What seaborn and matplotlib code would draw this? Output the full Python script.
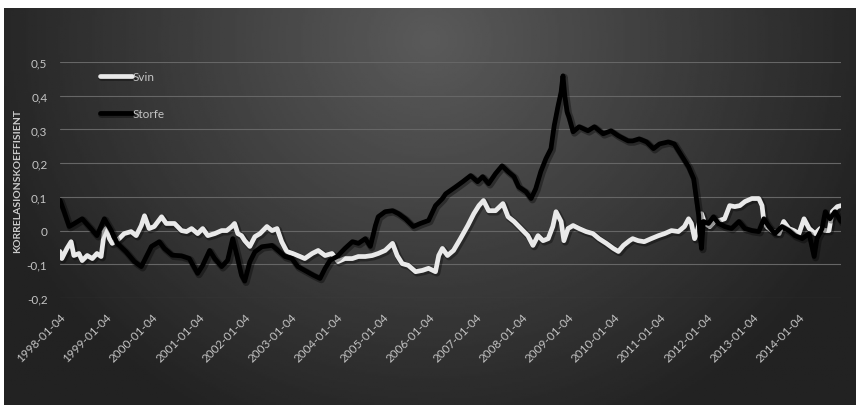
import numpy as np
import pandas as pd
import matplotlib
matplotlib.use("Agg")
import matplotlib.pyplot as plt
import matplotlib.dates as mdates
import matplotlib.ticker as mticker
import matplotlib.patheffects as pe
import seaborn as sns

# Svin: (fractional year, correlation)
svin_year = [
    1998.00, 1998.04, 1998.15, 1998.24, 1998.30, 1998.41, 1998.48, 1998.59, 1998.70, 1998.80,
    1998.89, 1998.96, 1999.00, 1999.07, 1999.13, 1999.28, 1999.39, 1999.54, 1999.65, 1999.76,
    1999.83, 1999.93, 2000.04, 2000.20, 2000.30, 2000.48, 2000.63, 2000.74, 2000.85, 2000.98,
    2001.09, 2001.20, 2001.35, 2001.50, 2001.61, 2001.72, 2001.78, 2001.85, 2001.93, 2002.00,
    2002.11, 2002.22, 2002.33, 2002.48, 2002.59, 2002.70, 2002.80, 2002.91, 2003.04, 2003.20,
    2003.30, 2003.46, 2003.59, 2003.74, 2003.89, 2004.02, 2004.17, 2004.33, 2004.46, 2004.61,
    2004.76, 2004.89, 2005.04, 2005.20, 2005.30, 2005.41, 2005.54, 2005.70, 2005.85, 2005.98,
    2006.13, 2006.20, 2006.28, 2006.39, 2006.52, 2006.67, 2006.83, 2006.96, 2007.07, 2007.17,
    2007.28, 2007.43, 2007.59, 2007.70, 2007.83, 2007.98, 2008.13, 2008.24, 2008.35, 2008.46,
    2008.57, 2008.67, 2008.74, 2008.85, 2008.91, 2009.00, 2009.11, 2009.24, 2009.39, 2009.54,
    2009.67, 2009.83, 2009.98, 2010.09, 2010.20, 2010.33, 2010.40, 2010.52, 2010.65, 2010.80,
    2010.96, 2011.09, 2011.24, 2011.39, 2011.52, 2011.61, 2011.67, 2011.74, 2011.80, 2011.89,
    2011.96, 2012.07, 2012.17, 2012.28, 2012.39, 2012.50, 2012.61, 2012.72, 2012.83, 2012.98,
    2013.13, 2013.20, 2013.24, 2013.30, 2013.41, 2013.57, 2013.67, 2013.78, 2013.89, 2014.00,
    2014.11, 2014.22, 2014.35, 2014.46, 2014.57, 2014.65, 2014.72, 2014.83, 2014.91,
]
svin_val = [
    -0.062, -0.083, -0.053, -0.033, -0.074, -0.068, -0.089, -0.074, -0.083, -0.068,
    -0.077, -0.003, 0.006, -0.024, -0.038, -0.024, -0.009, -0.003, -0.015, 0.015,
    0.044, 0.006, 0.012, 0.041, 0.021, 0.021, 0.000, -0.003, 0.006, -0.009,
    0.006, -0.015, -0.009, 0.000, 0.000, 0.012, 0.021, -0.009, -0.015, -0.030,
    -0.047, -0.018, -0.009, 0.012, 0.000, 0.006, -0.033, -0.062, -0.068, -0.077,
    -0.083, -0.068, -0.059, -0.074, -0.068, -0.092, -0.083, -0.083, -0.077, -0.077,
    -0.074, -0.068, -0.059, -0.038, -0.074, -0.098, -0.103, -0.122, -0.118, -0.112,
    -0.122, -0.074, -0.053, -0.074, -0.059, -0.024, 0.015, 0.050, 0.074, 0.089,
    0.059, 0.059, 0.080, 0.041, 0.027, 0.006, -0.015, -0.044, -0.015, -0.030,
    -0.024, 0.012, 0.056, 0.027, -0.030, 0.006, 0.015, 0.006, -0.003, -0.009,
    -0.024, -0.038, -0.053, -0.062, -0.044, -0.030, -0.024, -0.030, -0.033, -0.024,
    -0.015, -0.009, 0.000, -0.003, 0.012, 0.035, 0.021, -0.024, 0.000, 0.050,
    0.021, 0.012, 0.027, 0.030, 0.035, 0.074, 0.071, 0.074, 0.086, 0.095,
    0.095, 0.074, 0.027, 0.012, 0.000, -0.009, 0.027, 0.006, 0.000, -0.009,
    0.035, 0.006, -0.009, 0.006, 0.000, 0.000, 0.056, 0.071, 0.074,
]

# Storfe
storfe_year = [
    1998.00, 1998.09, 1998.20, 1998.30, 1998.48, 1998.67, 1998.80, 1998.96, 1999.11, 1999.24,
    1999.43, 1999.61, 1999.76, 1999.87, 1999.98, 2000.15, 2000.26, 2000.43, 2000.63, 2000.80,
    2000.98, 2001.09, 2001.24, 2001.35, 2001.50, 2001.63, 2001.74, 2001.83, 2001.93, 2002.00,
    2002.11, 2002.22, 2002.37, 2002.59, 2002.72, 2002.87, 2003.02, 2003.15, 2003.35, 2003.48,
    2003.63, 2003.74, 2003.85, 2004.00, 2004.17, 2004.33, 2004.46, 2004.61, 2004.72, 2004.83,
    2004.89, 2005.04, 2005.20, 2005.33, 2005.48, 2005.65, 2005.80, 2005.98, 2006.13, 2006.28,
    2006.35, 2006.57, 2006.72, 2006.89, 2007.04, 2007.15, 2007.28, 2007.43, 2007.57, 2007.70,
    2007.83, 2007.93, 2008.09, 2008.20, 2008.30, 2008.41, 2008.52, 2008.63, 2008.70, 2008.78,
    2008.85, 2008.89, 2008.93, 2008.98, 2009.02, 2009.11, 2009.24, 2009.43, 2009.57, 2009.76,
    2009.93, 2010.09, 2010.30, 2010.40, 2010.54, 2010.70, 2010.85, 2010.98, 2011.17, 2011.30,
    2011.46, 2011.61, 2011.72, 2011.78, 2011.83, 2011.85, 2011.89, 2011.93, 2012.04, 2012.15,
    2012.26, 2012.39, 2012.54, 2012.70, 2012.83, 2012.98, 2013.13, 2013.24, 2013.35, 2013.48,
    2013.63, 2013.78, 2013.91, 2014.07, 2014.22, 2014.33, 2014.39, 2014.50, 2014.57, 2014.67,
    2014.78, 2014.91,
]
storfe_val = [
    0.090, 0.056, 0.012, 0.020, 0.035, 0.006, -0.015, 0.035, 0.000, -0.038,
    -0.063, -0.092, -0.107, -0.077, -0.047, -0.033, -0.053, -0.073, -0.075, -0.083,
    -0.127, -0.103, -0.059, -0.083, -0.107, -0.088, -0.024, -0.073, -0.132, -0.150,
    -0.093, -0.063, -0.048, -0.044, -0.059, -0.077, -0.083, -0.107, -0.122, -0.132,
    -0.142, -0.112, -0.088, -0.077, -0.053, -0.033, -0.038, -0.024, -0.047, 0.015,
    0.041, 0.056, 0.059, 0.050, 0.035, 0.012, 0.021, 0.030, 0.074, 0.095,
    0.109, 0.130, 0.145, 0.163, 0.145, 0.160, 0.139, 0.169, 0.192, 0.175,
    0.160, 0.130, 0.115, 0.095, 0.124, 0.175, 0.213, 0.243, 0.311, 0.367,
    0.411, 0.459, 0.400, 0.352, 0.337, 0.293, 0.308, 0.296, 0.308, 0.287,
    0.296, 0.281, 0.266, 0.266, 0.272, 0.263, 0.243, 0.257, 0.263, 0.257,
    0.222, 0.189, 0.154, 0.095, 0.044, -0.003, -0.053, 0.027, 0.021, 0.041,
    0.021, 0.012, 0.006, 0.027, 0.006, 0.000, -0.003, 0.035, 0.012, -0.009,
    0.012, 0.000, -0.015, -0.024, -0.009, -0.077, -0.024, 0.006, 0.056, 0.035,
    0.056, 0.027,
]

tick_years = list(range(1998, 2015))
y_ticks = [-0.2, -0.1, 0.0, 0.1, 0.2, 0.3, 0.4, 0.5]

start = pd.Timestamp("1998-01-04")


def to_dates(years):
    return start + pd.to_timedelta((np.array(years) - 1998) * 365.25, unit="D")


df_svin = pd.DataFrame({"dato": to_dates(svin_year), "r": svin_val})
df_storfe = pd.DataFrame({"dato": to_dates(storfe_year), "r": storfe_val})

sns.set_style("dark")
plt.rcParams["font.family"] = ["Lato", "DejaVu Sans"]

W, H = 856, 406
fig = plt.figure(figsize=(W / 100, H / 100), dpi=100, facecolor="white")

# radial dark-gray background
bg = fig.add_axes([4 / W, 0, (W - 4) / W, (H - 9) / H])
gx, gy = np.meshgrid(np.linspace(4, W, 400), np.linspace(9, H, 200))
r = np.sqrt(((gx - 430) / 470) ** 2 + ((gy - 40) / 430) ** 2)
g = 90 - 56 * np.clip(r, 0, 1)
bg.imshow(g, cmap="gray", vmin=0, vmax=255, aspect="auto", extent=[0, 1, 0, 1])
bg.set_axis_off()

ax = fig.add_axes([60 / W, 1 - 299 / H, (841 - 60) / W, (299 - 63) / H])
ax.patch.set_alpha(0)

shadow = [pe.SimpleLineShadow(offset=(1, -1), shadow_color="black", alpha=0.35, linewidth=5),
          pe.Normal()]
sns.lineplot(data=df_svin, x="dato", y="r", ax=ax, color="#e9e9e9", linewidth=3.4,
             label="Svin", sort=False, estimator=None, path_effects=shadow)
sns.lineplot(data=df_storfe, x="dato", y="r", ax=ax, color="#000000", linewidth=3.4,
             label="Storfe", sort=False, estimator=None, path_effects=shadow)

ax.set_ylim(-0.2, 0.5)
ax.set_xlim(df_svin["dato"].iloc[0], df_svin["dato"].iloc[-1])
ax.set_yticks(y_ticks)
ax.yaxis.set_major_formatter(mticker.FuncFormatter(
    lambda v, p: "0" if abs(v) < 1e-9 else f"{v:.1f}".replace(".", ",")))
ax.set_xticks([pd.Timestamp(f"{y}-01-04") for y in tick_years])
ax.xaxis.set_major_formatter(mdates.DateFormatter("%Y-%m-%d"))
for lab in ax.get_xticklabels():
    lab.set_rotation(45)
    lab.set_ha("right")
    lab.set_rotation_mode("anchor")

ax.grid(axis="y", color="#666666", linewidth=0.8)
ax.grid(axis="x", visible=False)
for s in ax.spines.values():
    s.set_visible(False)
ax.tick_params(axis="both", length=0, colors="#c4c4c4", labelsize=8.5)
ax.tick_params(axis="y", pad=9)
ax.tick_params(axis="x", pad=9)

ax.set_xlabel("")
ax.set_ylabel("KORRELASIONSKOEFFISIENT", color="#cccccc", fontsize=7.5,
              fontweight="bold")
ax.yaxis.set_label_coords(-38 / (841 - 60), 0.5)

leg = ax.legend(loc="upper left", bbox_to_anchor=(100 / W, 1 - 72 / H),
                bbox_transform=fig.transFigure, frameon=False, fontsize=8.5,
                handlelength=2.7, handletextpad=0.1, labelspacing=2.2,
                borderpad=0, borderaxespad=0)
for t in leg.get_texts():
    t.set_color("#c4c4c4")

fig.savefig("out.png", dpi=100, facecolor="white")
